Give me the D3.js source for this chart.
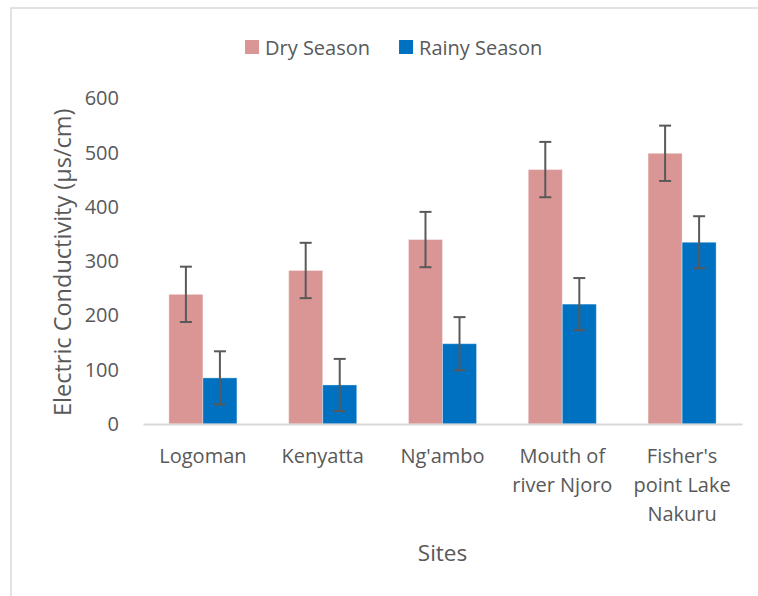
<!DOCTYPE html>
<html>
<head>
<meta charset="utf-8">
<script src="https://cdn.jsdelivr.net/npm/d3@7/dist/d3.min.js"></script>
<style>
    body { margin: 0; background: #fff; }
    text { font-family: "Open Sans", "Noto Sans", sans-serif; fill: #595959; }
</style>
</head>
<body>
<div id="chart-area"></div>
<script>

// Data
var sites = ["Logoman", "Kenyatta", "Ng'ambo", "Mouth of river Njoro", "Fisher's point Lake Nakuru"];
var seasons = ["Dry Season", "Rainy Season"];
var dryValues = [239, 283, 340, 469, 499];
var rainyValues = [85, 72, 148, 221, 335];
var dryErrors = [51, 51, 51, 51, 51];
var rainyErrors = [49, 48, 49, 48, 48];
var yTicks = [0, 100, 200, 300, 400, 500, 600];

var colorScale = d3.scaleOrdinal()
    .domain(seasons)
    .range(["#d99694", "#0070c0"]);


/*
 * GroupedBarChart - Object constructor function
 * @param _parentElement 	-- the HTML element in which to draw the visualization
 */

GroupedBarChart = function(_parentElement){
    this.parentElement = _parentElement;

    // one row per site, one value per season
    this.data = sites.map(function(s, i) {
        return {
            site: s,
            values: [
                { season: seasons[0], value: dryValues[i], err: dryErrors[i] },
                { season: seasons[1], value: rainyValues[i], err: rainyErrors[i] }
            ]
        };
    });

    this.initVis();
}


GroupedBarChart.prototype.initVis = function(){
    var vis = this;

    vis.width = 758;
    vis.height = 596;

    vis.svg = d3.select("#" + vis.parentElement).append("svg")
        .attr("width", vis.width)
        .attr("height", vis.height);

    // chart area border (runs off the right and bottom of the picture)
    vis.svg.append("rect")
        .attr("x", 11)
        .attr("y", 8)
        .attr("width", 800)
        .attr("height", 650)
        .attr("fill", "none")
        .attr("stroke", "#d9d9d9")
        .attr("stroke-width", 1.5);

    // Scales
    vis.x0 = d3.scaleBand()
        .domain(sites)
        .range([143, 742])
        .paddingInner(0.432)
        .paddingOuter(0.216);

    vis.x1 = d3.scaleBand()
        .domain(seasons)
        .range([0, vis.x0.bandwidth()]);

    vis.y = d3.scaleLinear()
        .domain([0, 600])
        .range([424, 98.5]);

    vis.wrangleData();
}


GroupedBarChart.prototype.wrangleData = function(){
    var vis = this;
    vis.displayData = vis.data;
    vis.updateVis();
}


GroupedBarChart.prototype.updateVis = function(){
    var vis = this;

    // Y axis (labels only)
    vis.yAxis = d3.axisLeft(vis.y)
        .tickValues(yTicks)
        .tickSize(0)
        .tickPadding(24);

    var yG = vis.svg.append("g")
        .attr("class", "y-axis axis")
        .attr("transform", "translate(" + vis.x0.range()[0] + ",0)")
        .call(vis.yAxis);
    yG.select(".domain").remove();
    yG.selectAll(".tick text")
        .attr("fill", "#595959")
        .style("font-size", "20px")
        .style("font-family", "'Open Sans', sans-serif");

    // Bars
    var groups = vis.svg.selectAll(".site")
        .data(vis.displayData)
        .enter().append("g")
        .attr("class", "site")
        .attr("transform", function(d) { return "translate(" + vis.x0(d.site) + ",0)"; });

    groups.selectAll(".bar")
        .data(function(d) { return d.values; })
        .enter().append("rect")
        .attr("class", "bar")
        .attr("x", function(d) { return vis.x1(d.season); })
        .attr("width", vis.x1.bandwidth())
        .attr("y", function(d) { return vis.y(d.value); })
        .attr("height", function(d) { return vis.y(0) - vis.y(d.value); })
        .attr("fill", function(d) { return colorScale(d.season); })
        .attr("stroke", "#fff")
        .attr("stroke-opacity", 0.35)
        .attr("stroke-width", 1);

    // X axis (domain line + wrapped labels)
    vis.xAxis = d3.axisBottom(vis.x0)
        .tickSize(0)
        .tickSizeOuter(0);

    var xG = vis.svg.append("g")
        .attr("class", "x-axis axis")
        .attr("transform", "translate(0," + vis.y(0) + ")")
        .call(vis.xAxis);
    xG.select(".domain")
        .attr("stroke", "#d9d9d9")
        .attr("stroke-width", 2);
    xG.selectAll(".tick text")
        .attr("fill", "#595959")
        .style("font-size", "20px")
        .style("font-family", "'Open Sans', sans-serif")
        .attr("y", 39)
        .attr("dy", 0)
        .call(wrap, vis.x0.step() * 0.93);

    // Error bars
    var errG = groups.selectAll(".err")
        .data(function(d) { return d.values; })
        .enter().append("g")
        .attr("class", "err")
        .attr("transform", function(d) {
            return "translate(" + (vis.x1(d.season) + vis.x1.bandwidth() / 2) + ",0)";
        })
        .attr("stroke", "#595959")
        .attr("stroke-width", 2);

    errG.append("line")
        .attr("x1", 0).attr("x2", 0)
        .attr("y1", function(d) { return vis.y(d.value + d.err); })
        .attr("y2", function(d) { return vis.y(d.value - d.err); });
    errG.append("line")
        .attr("x1", -6).attr("x2", 6)
        .attr("y1", function(d) { return vis.y(d.value + d.err); })
        .attr("y2", function(d) { return vis.y(d.value + d.err); });
    errG.append("line")
        .attr("x1", -6).attr("x2", 6)
        .attr("y1", function(d) { return vis.y(d.value - d.err); })
        .attr("y2", function(d) { return vis.y(d.value - d.err); });

    // Axis titles
    vis.svg.append("text")
        .attr("class", "axis-label")
        .attr("transform", "translate(71," + ((vis.y(0) + vis.y(600)) / 2 + 1) + ") rotate(-90)")
        .attr("text-anchor", "middle")
        .style("font-size", "23.5px")
        .text("Electric Conductivity (µs/cm)");

    vis.svg.append("text")
        .attr("class", "axis-label")
        .attr("x", (vis.x0.range()[0] + vis.x0.range()[1]) / 2)
        .attr("y", 561)
        .attr("text-anchor", "middle")
        .style("font-size", "22.5px")
        .text("Sites");

    // Legend
    var legend = vis.svg.append("g")
        .attr("class", "legend")
        .attr("transform", "translate(245,40)");
    var lx = 0;
    seasons.forEach(function(s) {
        var item = legend.append("g").attr("transform", "translate(" + lx + ",0)");
        item.append("rect")
            .attr("width", 14)
            .attr("height", 14)
            .attr("fill", colorScale(s));
        var t = item.append("text")
            .attr("x", 20)
            .attr("y", 14.5)
            .style("font-size", "20px")
            .text(s);
        lx += 20 + t.node().getComputedTextLength() + 29;
    });
}


// Word wrap for the category labels
function wrap(text, width) {
    text.each(function() {
        var text = d3.select(this),
            words = text.text().split(/\s+/),
            line = [],
            lineNumber = 0,
            y = text.attr("y"),
            tspan = text.text(null).append("tspan").attr("x", 0).attr("y", y).attr("dy", 0);
        words.forEach(function(word) {
            line.push(word);
            tspan.text(line.join(" "));
            if (tspan.node().getComputedTextLength() > width && line.length > 1) {
                line.pop();
                tspan.text(line.join(" "));
                line = [word];
                lineNumber++;
                tspan = text.append("tspan").attr("x", 0).attr("y", y)
                    .attr("dy", (lineNumber * 29) + "px").text(word);
            }
        });
    });
}

var chart = new GroupedBarChart("chart-area");

</script>
</body>
</html>
